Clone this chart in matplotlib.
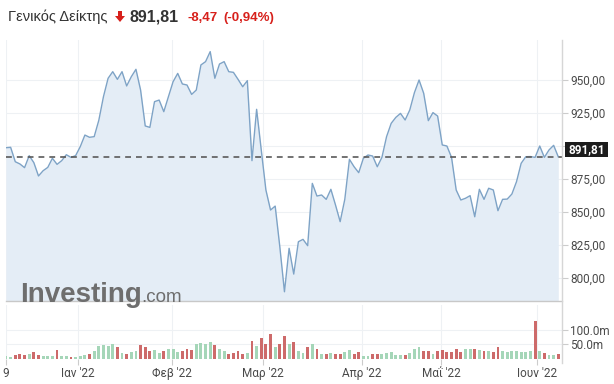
import numpy as np
import matplotlib
matplotlib.use("Agg")
import matplotlib.pyplot as plt
from matplotlib.patches import Rectangle, Polygon
from matplotlib.lines import Line2D

# ---------------- data ----------------
price = [
    898.7, 899.0, 888.1, 886.4, 883.6, 892.7, 887.4, 877.3, 881.3, 883.8, 890.7,
    886.1, 888.9, 893.4, 891.4, 892.7, 899.5, 908.3, 906.6, 907.1, 919.5,
    937.4, 951.3, 956.3, 950.5, 956.3, 945.5, 952.5, 958.1, 942.4, 915.2,
    914.1, 933.6, 934.8, 926.0, 937.4, 948.7, 955.0, 947.0, 946.2, 939.1,
    942.4, 961.4, 963.9, 971.5, 951.3, 962.1, 963.9, 956.3, 955.8, 950.5,
    944.9, 949.5, 888.9, 927.8, 897.0, 866.7, 851.5, 854.5, 823.7, 789.6, 822.5,
    803.0, 827.5, 829.3, 824.5, 871.7, 862.1, 862.9, 859.6, 867.2, 855.3,
    842.7, 859.6, 889.9, 884.3, 879.8, 890.7, 893.2, 892.4, 884.3, 891.4,
    907.1, 917.2, 921.7, 924.7, 919.7, 927.3, 940.4, 950.0, 939.9, 919.2,
    925.3, 922.7, 900.8, 900.0, 891.4, 866.7, 859.1, 860.4, 862.4, 846.4,
    867.2, 859.6, 868.0, 866.7, 851.0, 859.6, 859.8, 863.6, 873.0, 886.9,
    891.9, 892.0, 891.4, 900.0, 891.4, 897.0, 900.5, 891.81,
]
volume_m = [
    11.5, 8, 14, 16, 12.6, 17, 25, 15, 11.5, 11.5, 9, 32, 11.5, 11.5, 8, 8, 9,
    15, 16, 26, 46, 49, 46, 53, 40, 22, 18, 23, 29, 49, 40, 29, 32, 21,
    28, 36, 36, 25, 28, 34, 30, 50, 55, 50, 57, 48, 34, 28, 17, 20, 28, 17,
    20, 63, 45, 74, 51, 85, 40,
    51, 80, 51, 57, 28, 22, 40, 50, 34, 17, 17, 20, 17, 17, 23, 32, 17, 23,
    11, 11, 17, 17, 17,
    20, 25, 14, 14, 14, 20, 34, 40, 28, 28, 17, 28, 32, 23, 25, 34, 25, 34,
    34, 36,
    32, 28, 28, 25, 40, 28, 23, 28, 28, 23, 25, 28, 131, 28, 22, 14, 14, 17,
]
month_labels = ["9", "Ιαν '22", "Φεβ '22", "Μαρ '22", "Απρ '22", "Μαΐ '22", "Ιουν '22"]
month_pos = [0, 15.5, 35.8, 55.4, 76.7, 93.75, 114.4]
price_ticks = [800, 825, 850, 875, 900, 925, 950]
vol_ticks = [50, 100]
title = "Γενικός Δείκτης"
last_price = 891.81
change = "-8,47"
change_pct = "(-0,94%)"

# ---------------- styling ----------------
W, H = 614, 384
fig = plt.figure(figsize=(W / 100, H / 100), dpi=100)
fig.patch.set_facecolor("white")

def fx(px):
    return px / W

def fy(py):
    return 1 - py / H

LINE = "#7ea3c6"
FILL = "#e4edf6"
GRID = "#eef1f4"
TXT = "#4a4a4a"
RED = "#d7201b"
GREEN_BAR = "#a5d6b8"
RED_BAR = "#cd6a6a"
TICKFONT = "Roboto"

x = np.arange(len(price))
xmax = 119.8

# price panel
ax = fig.add_axes([fx(6), fy(301), fx(562) - fx(6), fy(40) - fy(301)])
ylo, yhi = 782.6, 980.3
ax.fill_between(x, price, ylo, color=FILL, lw=0, zorder=1)
ax.plot(x, price, color=LINE, lw=1.0, zorder=3)
ax.axhline(last_price, color="#5a5a5a", lw=1.2, ls=(0, (3.5, 3)), zorder=4)
ax.set_xlim(0, xmax)
ax.set_ylim(ylo, yhi)
ax.set_yticks(price_ticks)
ax.set_yticklabels([f"{v:.2f}".replace(".", ",") for v in price_ticks])
ax.yaxis.tick_right()
ax.tick_params(axis="y", length=4, color="#cccccc", pad=2, labelsize=8.5,
               labelcolor=TXT)
ax.set_xticks(month_pos)
ax.tick_params(axis="x", length=0, labelbottom=False)
ax.grid(True, color=GRID, lw=0.8, zorder=0)
ax.set_axisbelow(True)
for s in ["top", "left", "right"]:
    ax.spines[s].set_visible(False)
ax.spines["bottom"].set_color("#c8c8c8")
ax.spines["bottom"].set_linewidth(1.0)
for lab in ax.get_yticklabels():
    lab.set_family(TICKFONT)

# watermark logo
fig.text(fx(20), fy(302), "Investing", fontsize=20, weight="bold",
         color="#6e6e6e", family="Liberation Sans", ha="left", va="baseline")
fig.text(fx(141), fy(302), ".com", fontsize=13.5, color="#6e6e6e",
         family="Liberation Sans", ha="left", va="baseline")

# volume panel
axv = fig.add_axes([fx(6), fy(359), fx(562) - fx(6), fy(305) - fy(359)])
colors = [GREEN_BAR] + [GREEN_BAR if price[i] >= price[i - 1] else RED_BAR
                        for i in range(1, len(price))]
axv.bar(x, volume_m, width=0.62, color=colors, lw=0, zorder=2)
axv.set_xlim(0, xmax)
axv.set_ylim(0, 186)
axv.set_yticks(vol_ticks)
axv.set_yticklabels([f"{v:.1f}m" for v in vol_ticks])
axv.yaxis.tick_right()
axv.tick_params(axis="y", length=4, color="#cccccc", pad=2, labelsize=8.5,
                labelcolor=TXT)
axv.set_xticks(month_pos)
axv.set_xticklabels(month_labels)
axv.tick_params(axis="x", length=4, color="#cccccc", pad=2, labelsize=8.5,
                labelcolor=TXT)
axv.grid(True, color=GRID, lw=0.8, zorder=0)
axv.set_axisbelow(True)
for s in axv.spines.values():
    s.set_visible(False)
for lab in axv.get_yticklabels() + axv.get_xticklabels():
    lab.set_family(TICKFONT)

# right axis line spanning both panels
fig.add_artist(Line2D([fx(562), fx(562)], [fy(40), fy(363)], color="#d6d6d6",
                      lw=1.0, transform=fig.transFigure))

# last price tag
fig.add_artist(Rectangle((fx(565), fy(157)), fx(43), 15 / H, transform=fig.transFigure,
                         fc="#1c1c1c", ec="none", zorder=5))
fig.text(fx(586.5), fy(149.5), f"{last_price:.2f}".replace(".", ","), color="white",
         fontsize=8.5, weight="bold", family=TICKFONT, ha="center", va="center",
         zorder=6)

# header
fig.text(fx(8), fy(21), title, fontsize=10.5, color="#333333",
         family="Liberation Sans", ha="left", va="baseline")
arrow = Polygon([(fx(118), fy(11)), (fx(122), fy(11)), (fx(122), fy(16)),
                 (fx(125), fy(16)), (fx(120), fy(22)), (fx(115), fy(16)),
                 (fx(118), fy(16))], closed=True, transform=fig.transFigure,
                fc=RED, ec="none")
fig.add_artist(arrow)
fig.text(fx(130), fy(21), f"{last_price:.2f}".replace(".", ","), fontsize=11.5,
         weight="bold", color="#333333", family="Liberation Sans", ha="left",
         va="baseline")
fig.text(fx(187), fy(21), change, fontsize=9.5, weight="bold", color=RED,
         family="Liberation Sans", ha="left", va="baseline")
fig.text(fx(223), fy(21), change_pct, fontsize=9.5, weight="bold", color=RED,
         family="Liberation Sans", ha="left", va="baseline")

fig.savefig("out.png", dpi=100)
